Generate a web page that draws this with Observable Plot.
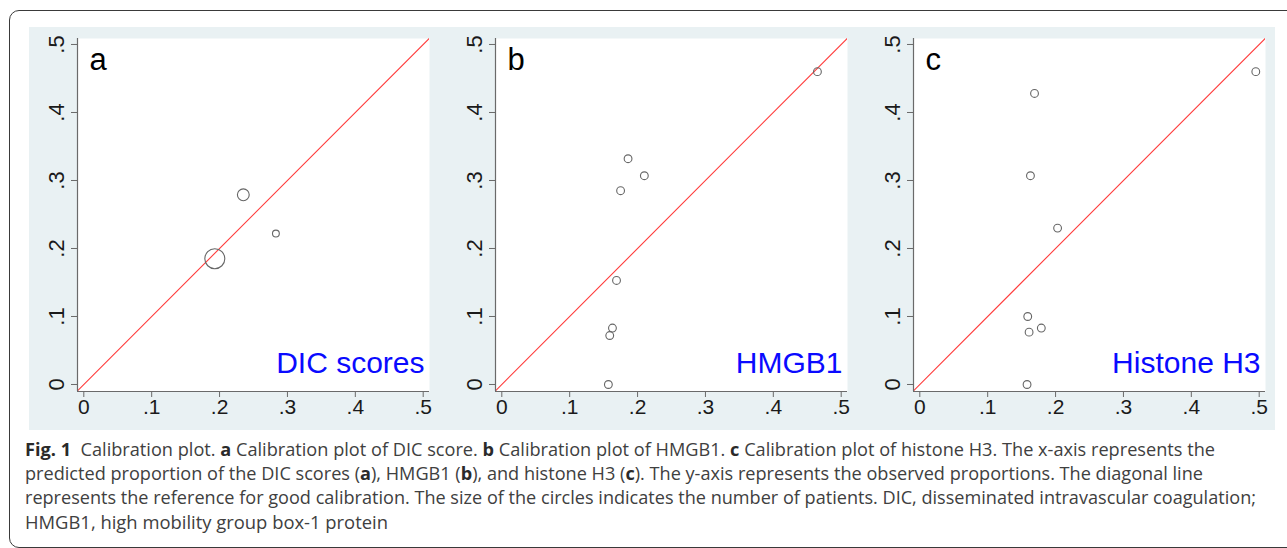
<!DOCTYPE html>
<html><head><meta charset="utf-8">
<script src="https://cdn.jsdelivr.net/npm/d3@7"></script>
<script src="https://cdn.jsdelivr.net/npm/@observablehq/plot@0.6"></script>
<style>
body{margin:0;background:#fff;}
#root{position:relative;width:1287px;height:548px;overflow:hidden;background:#fff;}
#frame{position:absolute;left:9px;top:10px;width:1320px;height:536px;border:1.3px solid #3a3a3a;border-radius:10px;}
#band{position:absolute;left:29px;top:27px;width:1246px;height:403px;background:#e9f1f3;display:flex;overflow:hidden;}
#band svg{display:block;flex:none;}
#caption{position:absolute;left:25px;top:437px;font-family:"Open Sans","Noto Sans",sans-serif;font-size:18px;line-height:24.2px;color:#404040;}
#caption .ln{white-space:nowrap;transform-origin:0 0;width:max-content;}
#caption b{font-weight:700;color:#2a2a2a;}
</style></head>
<body>
<div id="root">
  <div id="frame"></div>
  <div id="band"></div>
  <div id="caption">
    <div class="ln"><b>Fig. 1</b>&nbsp; Calibration plot. <b>a</b> Calibration plot of DIC score. <b>b</b> Calibration plot of HMGB1. <b>c</b> Calibration plot of histone H3. The x-axis represents the</div>
    <div class="ln">predicted proportion of the DIC scores (<b>a</b>), HMGB1 (<b>b</b>), and histone H3 (<b>c</b>). The y-axis represents the observed proportions. The diagonal line</div>
    <div class="ln">represents the reference for good calibration. The size of the circles indicates the number of patients. DIC, disseminated intravascular coagulation;</div>
    <div class="ln">HMGB1, high mobility group box-1 protein</div>
  </div>
</div>
<script>
// ---- data ----
const panelLetters = ["a", "b", "c"];
const panelLabels = ["DIC scores", "HMGB1", "Histone H3"];

const predA = [0.193, 0.235, 0.283];
const obsA  = [0.185, 0.279, 0.222];
const nA    = [86, 30, 10];

const predB = [0.465, 0.186, 0.210, 0.175, 0.169, 0.163, 0.159, 0.157];
const obsB  = [0.460, 0.332, 0.307, 0.285, 0.153, 0.083, 0.072, 0.000];
const nB    = [13, 13, 13, 13, 13, 13, 13, 13];

const predC = [0.495, 0.169, 0.163, 0.203, 0.159, 0.179, 0.161, 0.158];
const obsC  = [0.460, 0.428, 0.307, 0.230, 0.100, 0.083, 0.077, 0.000];
const nC    = [13, 13, 13, 13, 13, 13, 13, 13];

const ticks = [0, 0.1, 0.2, 0.3, 0.4, 0.5];
const tickLabels = ["0", ".1", ".2", ".3", ".4", ".5"];

const xDomain = [-0.0093, 0.5093];
const yDomain = [-0.0103, 0.5088];

const fmt = d => tickLabels[ticks.findIndex(t => Math.abs(t - d) < 1e-9)];

function panel(letter, label, pred, obs, n, width, mr) {
  const data = pred.map((p, i) => ({pred: p, obs: obs[i], n: n[i]}));
  return Plot.plot({
    width, height: 403,
    marginLeft: 48, marginRight: mr, marginTop: 11, marginBottom: 39,
    style: {background: "transparent", fontFamily: "'Liberation Sans', Arial, sans-serif", overflow: "visible"},
    x: {domain: xDomain},
    y: {domain: yDomain},
    r: {domain: [0, 86], range: [0, 10]},
    marks: [
      Plot.frame({fill: "white", stroke: null}),
      Plot.line(xDomain, {x: d => d, y: d => d, stroke: "#ff3c3c", strokeWidth: 1.1, clip: true}),
      Plot.ruleX([xDomain[0]], {stroke: "#6a6a6a", strokeWidth: 1.2}),
      Plot.ruleY([yDomain[0]], {stroke: "#6a6a6a", strokeWidth: 1.2}),
      Plot.axisX({ticks, tickFormat: fmt, tickSize: 6, tickPadding: 2, fontSize: 21, stroke: "#6a6a6a", fill: "#1a1a1a", label: null}),
      Plot.axisY({ticks, tickFormat: fmt, tickRotate: -90, tickSize: 6, tickPadding: 8, fontSize: 22, stroke: "#6a6a6a", fill: "#1a1a1a", label: null}),
      Plot.dot(data, {x: "pred", y: "obs", r: "n", stroke: "#666", strokeWidth: 1.1, fill: "none"}),
      Plot.text([letter], {frameAnchor: "top-left", dx: 12, dy: 31, lineAnchor: "bottom", textAnchor: "start", fontSize: 31, fill: "#000"}),
      Plot.text([label], {frameAnchor: "bottom-right", dx: -5, dy: -19, lineAnchor: "bottom", textAnchor: "end", fontSize: 30, fill: "#0a0aff"})
    ]
  });
}

const band = document.getElementById("band");
band.append(panel(panelLetters[0], panelLabels[0], predA, obsA, nA, 418, 18));
band.append(panel(panelLetters[1], panelLabels[1], predB, obsB, nB, 418, 18));
band.append(panel(panelLetters[2], panelLabels[2], predC, obsC, nC, 410, 10));

// fit caption lines to the reference widths
const captionTargets = [1190, 1178, 1231, 363];
function fitCaption() {
  document.querySelectorAll("#caption .ln").forEach((el, i) => {
    el.style.transform = "none";
    const w = el.getBoundingClientRect().width;
    el.style.transform = `scaleX(${captionTargets[i] / w})`;
  });
}
fitCaption();
if (document.fonts && document.fonts.ready) document.fonts.ready.then(fitCaption);
</script>
</body></html>
